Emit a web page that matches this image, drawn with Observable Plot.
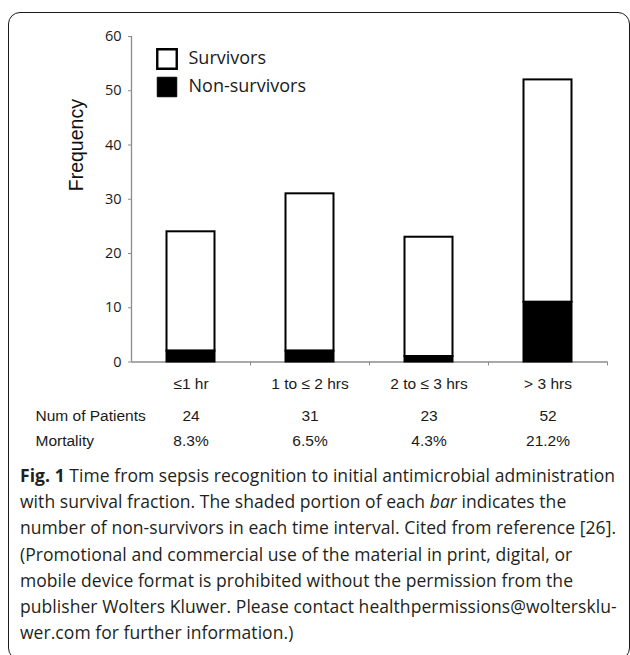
<!DOCTYPE html>
<html>
<head>
<meta charset="utf-8">
<script src="https://cdn.jsdelivr.net/npm/d3@7"></script>
<script src="https://cdn.jsdelivr.net/npm/@observablehq/plot@0.6"></script>
<style>
html, body { margin: 0; padding: 0; background: #fff; width: 630px; height: 655px; overflow: hidden; }
#frame { position: absolute; left: 8px; top: 11.5px; width: 621.5px; height: 648.5px; box-sizing: border-box; border: 1.7px solid #1a1a1a; border-radius: 12px; }
#chart { position: absolute; left: 0; top: 0; }
#caption { position: absolute; left: 20px; top: 462px; font-family: "Open Sans", sans-serif; font-size: 17.5px; line-height: 26.2px; color: #231f20; white-space: nowrap; }
#caption span { display: inline-block; }
</style>
</head>
<body>
<div id="frame"></div>
<div id="chart"></div>
<div id="caption"></div>
<script>
// ---- data ----
const categories = ["\u22641 hr", "1 to \u2264 2 hrs", "2 to \u2264 3 hrs", "> 3 hrs"];
const totals = [24, 31, 23, 52];
const nonSurvivors = [2, 2, 1, 11];
const patients = ["24", "31", "23", "52"];
const mortality = ["8.3%", "6.5%", "4.3%", "21.2%"];
const yTicks = [0, 10, 20, 30, 40, 50, 60];
const legendLabels = ["Survivors", "Non-survivors"];
const legendFills = ["white", "black"];
const rowLabels = ["Num of Patients", "Mortality"];
const yLabel = "Frequency";
const captionLines = [
  "<b>Fig. 1</b> Time from sepsis recognition to initial antimicrobial administration",
  "with survival fraction. The shaded portion of each <i>bar</i> indicates the",
  "number of non-survivors in each time interval. Cited from reference [26].",
  "(Promotional and commercial use of the material in print, digital, or",
  "mobile device format is prohibited without the permission from the",
  "publisher Wolters Kluwer. Please contact healthpermissions@wolterskl\u0075-",
  "wer.com for further information.)"
];

// ---- chart ----
const idx = categories.map((c, i) => i);
const axisGray = "#8c8c8c";
const rowDy = [47.5, 72.5];

const legendMarks = legendLabels.flatMap((label, i) => [
  Plot.dot([label], {x: null, y: null, frameAnchor: "top-left", dx: 35.5, dy: 22.5 + 28 * i,
    symbol: "square", r: 11, fill: legendFills[i], stroke: "black", strokeWidth: i === 0 ? 2.4 : 1}),
  Plot.text([label], {x: null, y: null, frameAnchor: "top-left", dx: 57, dy: 22 + 28 * i,
    textAnchor: "start", lineAnchor: "middle", fontFamily: "Open Sans", fontSize: 18, fill: "#1a1a1a"})
]);

const chart = Plot.plot({
  width: 630,
  height: 455,
  marginLeft: 131,
  marginRight: 23,
  marginTop: 36,
  marginBottom: 93.5,
  x: {type: "linear", domain: [0, categories.length]},
  y: {domain: [0, 60]},
  style: {fontFamily: "'Liberation Sans', Arial, sans-serif", fontSize: "15.5px", color: "#1a1a1a", background: "transparent", overflow: "visible"},
  marks: [
    Plot.ruleX([0], {stroke: axisGray, strokeWidth: 1.3}),
    Plot.ruleY([0], {stroke: axisGray, strokeWidth: 1.3}),
    Plot.axisY({ticks: yTicks, tickSize: 3, tickPadding: 7, label: null, stroke: axisGray, fill: "#1a1a1a",
      fontFamily: "Open Sans", fontSize: 14.5}),
    Plot.axisX({ticks: idx.map(i => i + 1), tickSize: 4, tickFormat: () => "", label: null, stroke: axisGray}),
    Plot.axisX({ticks: idx.map(i => i + 0.5), tickSize: 0, tickPadding: 16, label: null,
      tickFormat: d => categories[Math.floor(d)], fill: "#1a1a1a", fontSize: 15.5}),
    Plot.rect(idx, {x1: i => i, x2: i => i + 1, y1: i => nonSurvivors[i], y2: i => totals[i],
      fill: "white", stroke: "black", strokeWidth: 2, insetLeft: 35.5, insetRight: 35.5}),
    Plot.rect(idx, {x1: i => i, x2: i => i + 1, y1: 0, y2: i => nonSurvivors[i],
      fill: "black", stroke: "black", strokeWidth: 2, insetLeft: 35.5, insetRight: 35.5}),
    Plot.text(patients, {x: (d, i) => i + 0.5, frameAnchor: "bottom", lineAnchor: "top", dy: rowDy[0], fill: "#1a1a1a"}),
    Plot.text(mortality, {x: (d, i) => i + 0.5, frameAnchor: "bottom", lineAnchor: "top", dy: rowDy[1], fill: "#1a1a1a"}),
    ...rowLabels.map((label, i) => Plot.text([label], {x: null, y: null, frameAnchor: "bottom-left",
      dx: -96, dy: rowDy[i], textAnchor: "start", lineAnchor: "top", fill: "#1a1a1a"})),
    Plot.text([yLabel], {x: null, y: null, frameAnchor: "left", rotate: -90, dx: -54.6, dy: -8,
      fontSize: 19.5, fill: "#111"}),
    ...legendMarks
  ]
});
document.getElementById("chart").appendChild(chart);

// ---- caption ----
const cap = document.getElementById("caption");
captionLines.forEach(l => {
  const div = document.createElement("div");
  const span = document.createElement("span");
  span.innerHTML = l;
  div.appendChild(span);
  cap.appendChild(div);
});
const firstSpan = cap.querySelector("span");
const w = firstSpan.getBoundingClientRect().width;
const n = firstSpan.textContent.length;
cap.style.letterSpacing = ((595 - w) / n) + "px";
</script>
</body>
</html>
